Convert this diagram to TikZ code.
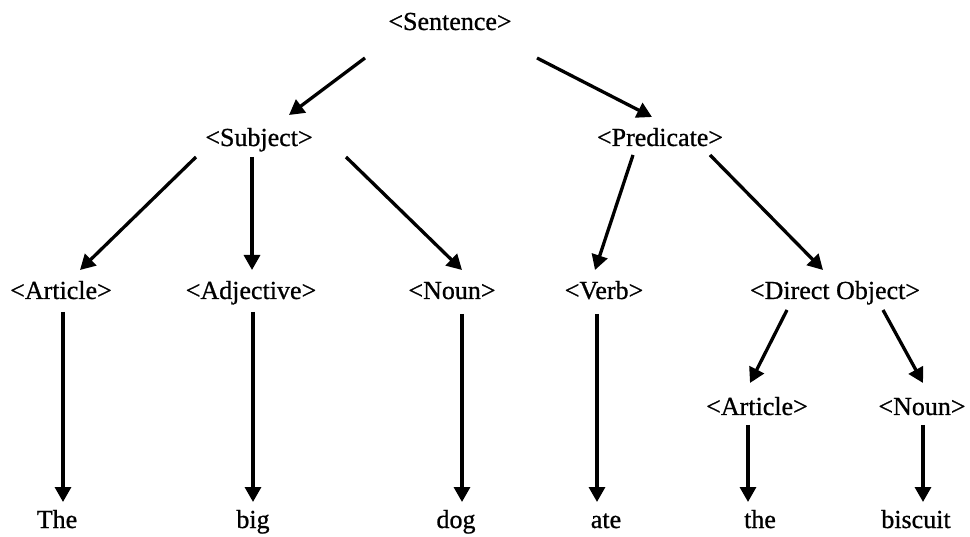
\documentclass[tikz,border=0pt]{standalone}
\usepackage{fontspec}
\setmainfont{Liberation Serif}
\newfontfamily\treefont{Liberation Serif}[FakeBold=0.8]
\usetikzlibrary{arrows.meta}

\tikzset{
  word/.style={anchor=base, inner sep=0pt, font=\treefont\fontsize{26}{30}\selectfont},
  arr/.style={line width=3.3pt, -{Triangle[length=15pt,width=16pt]}}
}

% connector from a point near one node's baseline to a point near another's
\newcommand\linkto[4]{\draw[arr] ([shift={(#2)}]#1.base) -- ([shift={(#4)}]#3.base);}

\begin{document}
\begin{tikzpicture}[x=1pt, y=-1pt]
\useasboundingbox (0,0) rectangle (970,537);

% parse tree labels
\node[word] (sent)  at (450,30)  {<Sentence>};
\node[word] (subj)  at (259,146) {<Subject>};
\node[word] (pred)  at (660,146) {<Predicate>};
\node[word] (art)   at (61,299)  {<Article>};
\node[word] (adj)   at (251,299) {<Adjective>};
\node[word] (noun)  at (452,299) {<Noun>};
\node[word] (verb)  at (604,299) {<Verb>};
\node[word] (dobj)  at (835,299) {<Direct Object>};
\node[word] (art2)  at (757,415) {<Article>};
\node[word] (noun2) at (922,415) {<Noun>};

% leaves
\node[word] (w1) at (57,528)  {The};
\node[word] (w2) at (253,528) {big};
\node[word] (w3) at (456,528) {dog};
\node[word] (w4) at (606,528) {ate};
\node[word] (w5) at (760,528) {the};
\node[word] (w6) at (916,528) {biscuit};

% branches
\linkto{sent}{-85,28}{subj}{30,-31}
\linkto{sent}{87,28}{pred}{-8,-29}
\linkto{subj}{-63,11}{art}{19,-29}
\linkto{subj}{-7,11}{adj}{1,-29}
\linkto{subj}{87,11}{noun}{10,-29}
\linkto{pred}{-27,9}{verb}{-9,-29}
\linkto{pred}{50,9}{dobj}{-12,-29}
\linkto{art}{2,13}{w1}{6,-26}
\linkto{adj}{2,13}{w2}{0,-26}
\linkto{noun}{10,15}{w3}{6,-26}
\linkto{verb}{-7,15}{w4}{-9,-26}
\linkto{dobj}{-48,11}{art2}{-7,-32}
\linkto{dobj}{48,11}{noun2}{1,-32}
\linkto{art2}{-9,10}{w5}{-12,-26}
\linkto{noun2}{1,10}{w6}{7,-26}
\end{tikzpicture}
\end{document}
